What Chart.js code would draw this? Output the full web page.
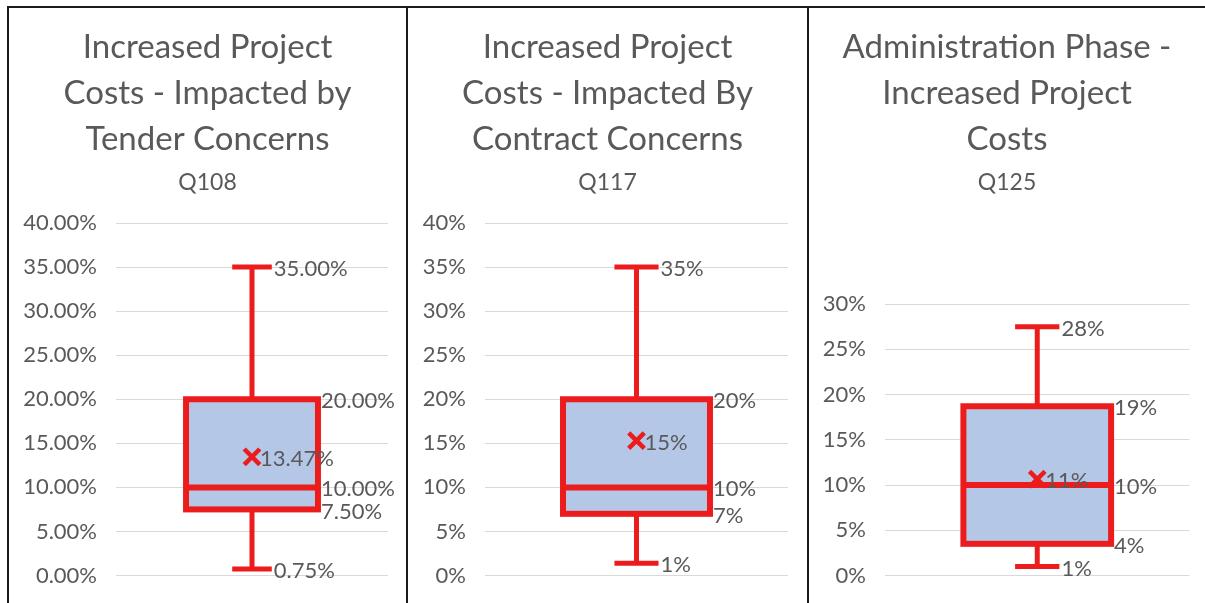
<!DOCTYPE html>
<html>
<head>
<meta charset="utf-8">
<script src="https://cdn.jsdelivr.net/npm/chart.js@4.4.1/dist/chart.umd.min.js"></script>
<style>
  html, body { margin: 0; padding: 0; background: #fff; }
  body { width: 1205px; height: 603px; position: relative; overflow: hidden; }
  .panel {
    position: absolute; top: 6px; height: 597px;
    border-left: 2px solid #1b1b1b; border-top: 2px solid #1b1b1b;
  }
  .panel div { position: relative; width: 100%; height: 100%; }
</style>
</head>
<body>
<div class="panel" style="left:7px; width:397px"><div><canvas id="c0"></canvas></div></div>
<div class="panel" style="left:406px; width:399px"><div><canvas id="c1"></canvas></div></div>
<div class="panel" style="left:807px; width:396px"><div><canvas id="c2"></canvas></div></div>
<script>
// Titel und Frage je Diagramm
const chartTitles = [
    ['Increased Project', 'Costs - Impacted by', 'Tender Concerns'],
    ['Increased Project', 'Costs - Impacted By', 'Contract Concerns'],
    ['Administration Phase -', 'Increased Project', 'Costs']
];
const questionCodes = ['Q108', 'Q117', 'Q125'];

// Box-Plot-Werte in Prozent
const minValues = [0.75, 1.4, 1];
const q1Values = [7.5, 7, 3.5];
const medianValues = [10, 10, 10];
const q3Values = [20, 20, 18.7];
const maxValues = [35, 35, 27.5];
const meanValues = [13.47, 15.3, 10.65];

// Achsen
const axisMax = [40, 40, 30];
const tickDecimals = [2, 0, 0];

const RED = '#ec1c1c';
const GREY = '#595959';
const FONT = 'Lato';

const axisWidth = [107, 77, 76];
const rightPad = [18, 19, 15];
const subtitleGap = [28, 28, 109];

function fmt(v, i) {
    return v.toFixed(tickDecimals[i]) + '%';
}

function makeBoxPlugin(i) {
    return {
        id: 'boxWhiskers' + i,
        afterDatasetDraw(chart, args) {
            if (args.meta.type !== 'bar') return;
            const bar = args.meta.data[0];
            const y = chart.scales.y;
            const ctx = chart.ctx;
            const half = bar.width / 2;
            const capHalf = bar.width * 0.15;
            const pMin = y.getPixelForValue(minValues[i]);
            const pQ1 = y.getPixelForValue(q1Values[i]);
            const pMed = y.getPixelForValue(medianValues[i]);
            const pQ3 = y.getPixelForValue(q3Values[i]);
            const pMax = y.getPixelForValue(maxValues[i]);

            ctx.save();
            ctx.strokeStyle = RED;
            ctx.lineWidth = 5;
            ctx.beginPath();
            ctx.moveTo(bar.x, pQ3); ctx.lineTo(bar.x, pMax);
            ctx.moveTo(bar.x, pQ1); ctx.lineTo(bar.x, pMin);
            ctx.moveTo(bar.x - capHalf, pMax); ctx.lineTo(bar.x + capHalf, pMax);
            ctx.moveTo(bar.x - capHalf, pMin); ctx.lineTo(bar.x + capHalf, pMin);
            ctx.stroke();

            ctx.lineWidth = 6;
            ctx.strokeRect(bar.x - half, pQ3, bar.width, pQ1 - pQ3);
            ctx.beginPath();
            ctx.moveTo(bar.x - half, pMed); ctx.lineTo(bar.x + half, pMed);
            ctx.stroke();
            ctx.restore();
        },
        afterDatasetsDraw(chart) {
            const meta = chart.getDatasetMeta(1);
            const bar = meta.data[0];
            const y = chart.scales.y;
            const ctx = chart.ctx;
            const half = bar.width / 2;
            const capHalf = bar.width * 0.15;
            const labels = [
                [maxValues[i], bar.x + capHalf + 2],
                [q3Values[i], bar.x + half + 3],
                [meanValues[i], bar.x + 8],
                [medianValues[i], bar.x + half + 3],
                [q1Values[i], bar.x + half + 3],
                [minValues[i], bar.x + capHalf + 2]
            ];
            ctx.save();
            ctx.font = '22px ' + FONT;
            ctx.fillStyle = GREY;
            ctx.textAlign = 'left';
            ctx.textBaseline = 'middle';
            labels.forEach(function (l) {
                ctx.fillText(fmt(l[0], i), l[1], y.getPixelForValue(l[0]) + 2);
            });
            ctx.restore();
        }
    };
}

function renderChart(i) {
    const ctx = document.getElementById('c' + i).getContext('2d');
    new Chart(ctx, {
        type: 'bar',
        data: {
            labels: [questionCodes[i]],
            datasets: [{
                type: 'line',
                label: 'Mean',
                data: [meanValues[i]],
                showLine: false,
                pointStyle: 'crossRot',
                pointRadius: 11,
                pointBorderWidth: 4.5,
                borderColor: RED,
                backgroundColor: RED,
                order: 1
            }, {
                label: 'Box',
                data: [[q1Values[i], q3Values[i]]],
                backgroundColor: '#b4c7e7',
                borderWidth: 0,
                barPercentage: 0.485,
                categoryPercentage: 1,
                order: 2
            }]
        },
        options: {
            responsive: true,
            maintainAspectRatio: false,
            animation: false,
            layout: { padding: { top: 0, bottom: 29.5, left: 0, right: 0 } },
            plugins: {
                legend: { display: false },
                tooltip: { enabled: false },
                title: {
                    display: true,
                    text: chartTitles[i],
                    color: GREY,
                    font: { family: FONT, size: 33, weight: 'normal', lineHeight: 46 / 33 },
                    padding: { top: 16, bottom: 0 }
                },
                subtitle: {
                    display: true,
                    text: questionCodes[i],
                    color: GREY,
                    font: { family: FONT, size: 23, weight: 'normal', lineHeight: 24 / 23 },
                    padding: { top: 9, bottom: subtitleGap[i] }
                }
            },
            scales: {
                x: { display: false },
                y: {
                    min: 0,
                    max: axisMax[i],
                    afterFit: function (scale) { scale.width = axisWidth[i]; },
                    border: { display: false },
                    grid: { color: '#d9d9d9', lineWidth: 1, drawTicks: false },
                    ticks: {
                        stepSize: 5,
                        padding: 19,
                        color: GREY,
                        // kleine Zeilenhöhe, sonst schiebt die Achse den Plotbereich nach oben
                        font: { family: FONT, size: 22, lineHeight: 0.6 },
                        callback: function (v) { return fmt(v, i); }
                    }
                },
                // leere Achse rechts, damit der Titel über dem ganzen Feld zentriert bleibt
                yRight: {
                    position: 'right',
                    afterFit: function (scale) { scale.width = rightPad[i]; },
                    border: { display: false },
                    grid: { display: false, drawTicks: false },
                    ticks: { display: false }
                }
            }
        },
        plugins: [makeBoxPlugin(i)]
    });
}

window.onload = function () {
    for (let i = 0; i < 3; i++) renderChart(i);
};
</script>
</body>
</html>
